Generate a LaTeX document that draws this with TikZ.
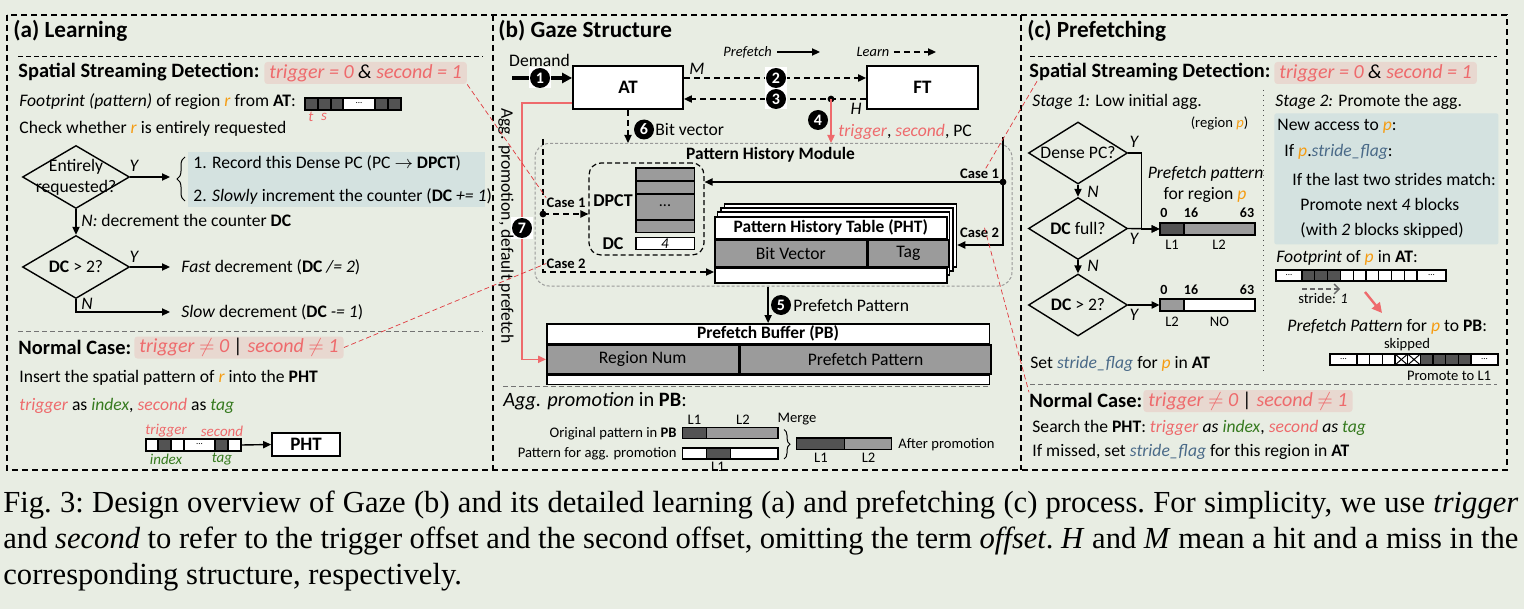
\documentclass[tikz,border=0pt]{standalone}
\usepackage{fontspec}
\setmainfont{Carlito}
\newfontfamily\capfont{Liberation Serif}
\usetikzlibrary{arrows.meta,positioning,shapes.geometric,calc,decorations.pathreplacing}
\definecolor{paper}{HTML}{E8EDE3}
\definecolor{hot}{HTML}{EE6A6C}
\definecolor{hotbg}{HTML}{E8D8D0}
\definecolor{cool}{HTML}{D4E2E0}
\definecolor{orng}{HTML}{F59C12}
\definecolor{grn}{HTML}{367A1F}
\definecolor{flag}{HTML}{4A6A88}
\definecolor{cdark}{HTML}{535353}
\definecolor{cmid}{HTML}{9B9B9B}
\definecolor{linkred}{HTML}{E0393E}
\newcommand{\trig}{\textcolor{hot}{\textit{trigger}}}
\newcommand{\scnd}{\textcolor{hot}{\textit{second}}}
\newcommand{\idx}{\textcolor{grn}{\textit{index}}}
\newcommand{\tagw}{\textcolor{grn}{\textit{tag}}}
\newcommand{\regr}{\textcolor{orng}{\textit{r}}}
\newcommand{\regp}{\textcolor{orng}{\textit{p}}}
\newcommand{\sflag}{\textcolor{flag}{\textit{stride\_flag}}}

\begin{document}
\begin{tikzpicture}[
  x=0.5pt, y=-0.5pt,
  >={Triangle[length=4pt,width=3.6pt]},
  ttl/.style={font=\bfseries\fontsize{11.6}{14}\selectfont, inner sep=0pt, anchor=west},
  head/.style={font=\bfseries\fontsize{10.2}{12}\selectfont, inner sep=0pt, anchor=west},
  body/.style={font=\fontsize{8.8}{10.5}\selectfont, inner sep=0pt, anchor=west},
  bodyl/.style={body, font=\fontsize{10.2}{12}\selectfont},
  lbl/.style={font=\fontsize{7.3}{8}\selectfont, inner sep=0pt},
  lbli/.style={font=\itshape\fontsize{7.5}{8}\selectfont, inner sep=0pt},
  lblb/.style={font=\bfseries\fontsize{7}{8}\selectfont, inner sep=0pt},
  dots/.style={font=\fontsize{4.5}{5}\selectfont, inner sep=0pt},
  cse/.style={font=\bfseries\fontsize{7.3}{8}\selectfont, inner sep=0pt},
  yn/.style={font=\itshape\fontsize{8.8}{10}\selectfont, inner sep=0pt},
  hl/.style={fill=hotbg, rounded corners=1.5pt, inner xsep=2.5pt, inner ysep=0pt, minimum height=11pt, anchor=west, font=\itshape\fontsize{10}{12}\selectfont},
  dia/.style={diamond, draw, line width=0.7pt, inner sep=0pt, minimum width=53.5pt, minimum height=31.5pt},
  diac/.style={dia, minimum width=49.5pt, minimum height=31pt},
  box/.style={draw, fill=white, line width=0.9pt, inner sep=0pt},
  tbl/.style={draw, line width=0.8pt, inner sep=0pt, font=\fontsize{8.8}{10}\selectfont},
  num/.style={circle, fill=black, text=white, inner sep=0pt, minimum size=10pt, font=\bfseries\fontsize{8}{8}\selectfont},
  numbg/.style={fill=white, inner sep=0pt, minimum width=11pt, minimum height=10.5pt},
  arr/.style={->, line width=0.7pt},
  arrd/.style={->, line width=0.7pt, dash pattern=on 3pt off 2pt},
  arrh/.style={->, line width=0.8pt, color=hot},
  panel/.style={line width=0.7pt, dash pattern=on 3pt off 2pt},
  sepk/.style={line width=0.5pt, dash pattern=on 2.5pt off 1.5pt},
  sepg/.style={sepk, color=black!55},
  link/.style={color=linkred, line width=0.35pt, dash pattern=on 2.5pt off 1.5pt},
  cell/.style={draw=black, line width=0.6pt},
]
\fill[paper] (0,0) rectangle (1524,609);
\useasboundingbox (0,0) rectangle (1524,609);

% panels
\draw[panel] (7,15) rectangle (1507,470);
\draw[panel] (493,15) -- (493,470);
\draw[panel] (1021,15) -- (1021,470);

%% (a) Learning
\node[ttl] (ttlA) at (13,31) {(a) Learning};
\draw[sepk] (18,57) -- (483,57);
\node[head] (ssdA) at (18,72) {Spatial Streaming Detection:};
\node[hl] (condA) at (264,73) {\textcolor{hot}{trigger = 0} \& \textcolor{hot}{second = 1}};

\node[body] (fpA) at (19,102) {\textit{Footprint (pattern)} of region \regr{} from \textbf{AT}:};
\foreach \xa/\xb/\cf in {305/318/cdark,318/331/cdark,331/343/cdark,343/375/white,375/388/cdark,388/401/cdark}
  \filldraw[cell, fill=\cf] (\xa,98) rectangle (\xb,110);
\node[dots] (dotsA1) at (359,103) {...};
\node[lbli, text=hot] (tA) at (311,117) {t};
\node[lbli, text=hot] (sA) at (324,117) {s};
\node[body] (chkA) at (19,129) {Check whether \regr{} is entirely requested};

\node[dia] (entA) at (76,177) {};
\node[body, anchor=center, align=center] (entAt) at (76,177) {Entirely\\requested?};
\node[yn] (yA1) at (134,166) {Y};
\coordinate (brcA) at (170,177);
\draw[arr] (entA.east) -- (brcA);
\draw[line width=0.5pt, decorate, decoration={brace, amplitude=4pt}] (185,201) -- (185,157);
\node[fill=cool, anchor=north west, minimum width=148.5pt, minimum height=27.5pt, inner sep=0pt] (recA) at (188,152) {};
\node[body] (rec1) at (193,163) {1. Record this Dense PC (PC $\rightarrow$ \textbf{DPCT})};
\node[body] (rec2) at (193,196) {2. \textit{Slowly} increment the counter (\textbf{DC} \textit{+= 1})};
\node[body] (decA) at (81,220) {\textit{N:} decrement the counter \textbf{DC}};

\node[dia] (gtA) at (76,267) {};
\node[body, anchor=center] (gtAt) at (76,267) {\textbf{DC} > 2?};
\draw[arr] (entA.south) -- (gtA.north);
\node[yn] (yA2) at (134,257) {Y};
\node[body, inner xsep=5.5pt] (fastA) at (170,267) {\textit{Fast} decrement (\textbf{DC} \textit{/= 2})};
\draw[arr] (gtA.east) -- (fastA.west);
\node[yn] (nA2) at (87,304) {N};
\node[body, inner xsep=5.5pt] (slowA) at (170,312) {\textit{Slow} decrement (\textbf{DC} \textit{-= 1})};
\draw[arr] (gtA.south) |- (slowA.west);

\draw[sepg] (18,331) -- (483,331);
\node[head] (ncA) at (18,347) {Normal Case:};
\node[hl] (normA) at (134,347.5) {\textcolor{hot}{trigger $\neq$ 0} | \textcolor{hot}{second $\neq$ 1}};
\node[body] (insA) at (19,378) {Insert the spatial pattern of \regr{} into the \textbf{PHT}};
\node[body] (asA) at (19,406) {\trig{} as \idx, \scnd{} as \tagw};

\foreach \xa/\xb/\cf in {146/158/white,158/171/cdark,171/184/white,184/215/white,215/228/cdark,228/241/white}
  \filldraw[cell, fill=\cf] (\xa,439) rectangle (\xb,451);
\node[dots] (dotsA2) at (199.5,444.5) {...};
\node[inner sep=0pt, minimum width=47.5pt, minimum height=6pt] (patA) at (193.5,445) {};
\node[lbli, text=hot] (trgA) at (166,431) {trigger};
\node[lbli, text=hot] (scdA) at (222,431) {second};
\node[lbli, text=grn] (idxA) at (166,459) {index};
\node[lbli, text=grn] (tagA) at (222,459) {tag};
\node[box, minimum width=34pt, minimum height=11.5pt, font=\bfseries\fontsize{9.5}{10}\selectfont] (phtA) at (306,444.5) {PHT};
\draw[arr] (patA.east) -- (phtA.west);

%% (b) Gaze Structure
\node[ttl] (ttlB) at (498,31) {(b) Gaze Structure};
\node[lbli, font=\itshape\fontsize{7.2}{8}\selectfont, inner xsep=2.5pt] (legP) at (747.5,52) {Prefetch};
\coordinate (legPe) at (820,52);
\draw[arr] (legP) -- (legPe);
\node[lbli, font=\itshape\fontsize{7.2}{8}\selectfont, inner xsep=2pt] (legL) at (873,52) {Learn};
\coordinate (legLe) at (936,52);
\draw[arrd] (legL) -- (legLe);

\node[draw=black!40, dash pattern=on 1.5pt off 1pt, rounded corners=7pt, line width=0.5pt, minimum width=238.5pt, minimum height=71.25pt, inner sep=0pt] (phm) at (773.5,214.75) {};
\node[head, anchor=center, font=\bfseries\fontsize{8.7}{10}\selectfont] (phmT) at (770.5,155) {Pattern History Module};

\node[body, anchor=center] (demB) at (539.5,60) {Demand};
\node[box, minimum width=55pt, minimum height=21.5pt, font=\bfseries\fontsize{9.5}{10}\selectfont] (AT) at (628,87.5) {AT};
\node[box, minimum width=55.5pt, minimum height=21.5pt, font=\bfseries\fontsize{9.5}{10}\selectfont] (FT) at (922.5,87.5) {FT};
\coordinate (demS) at (512,78);
\draw[-{Triangle[length=5pt,width=5pt]}, line width=1.6pt] (demS) -- (demS -| AT.west);
\node[numbg] (w1) at (540,78) {};
\node[num] (s1) at (540,78) {1};

\draw[arrd] ([yshift=4.75pt]AT.east) -- ([yshift=4.75pt]FT.west);
\node[numbg] (w2) at (776,78) {};
\node[num] (s2) at (776,78) {2};
\draw[arrd] ([yshift=-5.75pt]FT.west) -- ([yshift=-5.75pt]AT.east);
\node[numbg] (w3) at (776,99) {};
\node[num] (s3) at (776,99) {3};
\node[yn] (mB) at (697,69) {M};
\node[yn] (hB) at (856,109) {H};
\coordinate (hitB) at (831,99);
\fill (hitB) circle (1.7pt);
\draw[arrh] (hitB) -- (hitB |- phm.north);
\node[num] (s4) at (818,120) {4};
\node[body] (tspB) at (838,132) {\trig, \scnd, PC};
\draw[arrd] (AT.south) -- (AT.south |- phm.north);
\node[num] (s6) at (644,129.5) {6};
\node[body] (bvB) at (655,129.5) {Bit vector};

% DPCT and DC
\node[draw, dash pattern=on 2.5pt off 1.5pt, rounded corners=6pt, line width=0.6pt, minimum width=57.5pt, minimum height=46pt, inner sep=0pt] (dpct) at (646.5,209) {};
\foreach \ya/\yb in {168/181,181/194,194/220,220/232.4}
  \filldraw[cell, fill=cmid] (636,\ya) rectangle (694.5,\yb);
\node[lbl, font=\fontsize{8}{8}\selectfont] (dotsB) at (665,206) {...};
\filldraw[cell, fill=white] (636,237.5) rectangle (694.5,249.7);
\node[lbli] (dc4) at (665,243.6) {4};
\node[head, anchor=center, font=\bfseries\fontsize{9}{10}\selectfont] (dpctT) at (613,201) {DPCT};
\node[head, anchor=center, font=\bfseries\fontsize{9}{10}\selectfont] (dcT) at (613,244) {DC};

% PHT stack
\foreach \k in {3,2,1}
  \node[tbl, fill=white, minimum width=116pt, minimum height=31.5pt] (phtB\k) at (830+3.5*\k,247.5-4*\k) {};
\node[tbl, fill=white, font=\bfseries\fontsize{8.7}{10}\selectfont, minimum width=116pt, minimum height=10.75pt, anchor=north west] (phtT) at (714,216) {Pattern History Table (PHT)};
\node[tbl, fill=cmid, minimum width=76pt, minimum height=13.5pt, anchor=north west] (phtBV) at (phtT.south west) {Bit Vector};
\node[tbl, fill=cmid, minimum width=40pt, minimum height=13.5pt, anchor=north west] (phtTag) at (phtBV.north east) {Tag};
\node[tbl, fill=white, minimum width=116pt, minimum height=7.25pt, anchor=north west] (phtE) at (phtBV.south west) {};

% left cases
\coordinate (lTop) at (543,139);
\coordinate (lDot) at (543,214);
\coordinate (lBot) at (543,272);
\draw[arrd] (lTop) -- (lBot) -- (lBot -| phtE.west);
\draw[arrd] (lDot) -- (lDot -| dpct.west);
\fill (lDot) circle (1.7pt);
\node[cse] (cs1L) at (566,203) {Case 1};
\node[cse] (cs2L) at (566,263.5) {Case 2};

% right cases
\coordinate (rTop) at (1003,137);
\coordinate (rDot) at (1003,182);
\coordinate (rBot) at (1003,245);
\draw[arr] (rTop) -- (rBot) -- (rBot -| phtB3.east);
\draw[arr] (rDot) -- (rDot -| dpct.east);
\fill (rDot) circle (1.7pt);
\node[cse] (cs1R) at (979.5,174) {Case 1};
\node[cse] (cs2R) at (979.5,233) {Case 2};

% prefetch buffer
\node[tbl, fill=white, font=\bfseries\fontsize{8.7}{10}\selectfont, minimum width=221.3pt, minimum height=9.8pt, anchor=north west] (pbT) at (546,323) {Prefetch Buffer (PB)};
\node[tbl, fill=cmid, minimum width=95.9pt, minimum height=14.35pt, anchor=north west] (pbRN) at (pbT.south west) {Region Num};
\node[tbl, fill=cmid, minimum width=125.4pt, minimum height=14.35pt, anchor=north west] (pbPP) at (pbRN.north east) {Prefetch Pattern};
\node[tbl, fill=white, minimum width=221.3pt, minimum height=4.55pt, anchor=north west] (pbE) at (pbRN.south west) {};
\draw[arr] (pbT.north |- phm.south) -- (pbT.north);
\node[num] (s5) at (781,305) {5};
\node[body] (ppB) at (793,305) {Prefetch Pattern};

\draw[arrh] ([yshift=-7.75pt]AT.west) -| ([xshift=-12pt]pbRN.west) -- (pbRN.west);
\node[numbg] (w7) at (522,228) {};
\node[num] (s7) at (522,228) {7};
\node[body, anchor=center, rotate=-90] (aggB) at (506,226) {Agg. promotion, default prefetch};

% aggressive promotion
\draw[sepg] (503,386.5) -- (990,386.5);
\node[bodyl] (aggT) at (503,400.7) {\textit{Agg. promotion} in \textbf{PB}:};
\foreach \xa/\xb/\cf in {682.7/706.4/cdark,706.4/778/cmid}
  \filldraw[cell, fill=\cf] (\xa,427.8) rectangle (\xb,438.6);
\foreach \xa/\xb/\cf in {682.7/706.4/white,706.4/730.7/cdark,730.7/778/white}
  \filldraw[cell, fill=\cf] (\xa,448) rectangle (\xb,458.9);
\foreach \xa/\xb/\cf in {796.6/844.3/cdark,844.3/891.6/cmid}
  \filldraw[cell, fill=\cf] (\xa,438) rectangle (\xb,449.7);
\node[lbl, anchor=east] (orgB) at (677,433.5) {Original pattern in \textbf{PB}};
\node[lbl, anchor=east] (forB) at (677,453.8) {Pattern for agg. promotion};
\node[lbl] (l1a) at (694.5,420) {L1};
\node[lbl] (l2a) at (743,420) {L2};
\node[lbl] (l1b) at (718,467) {L1};
\node[lbl] (mrgB) at (797,419) {Merge};
\draw[line width=0.5pt, decorate, decoration={brace, amplitude=3pt}] (784,429.5) -- (784,459);
\node[lbl] (l1c) at (821,458) {L1};
\node[lbl] (l2c) at (868.6,458) {L2};
\node[lbl, anchor=west] (aftB) at (898,444.7) {After promotion};

%% (c) Prefetching
\node[ttl] (ttlC) at (1027,31) {(c) Prefetching};
\draw[sepk] (1030,57) -- (1497,57);
\node[head] (ssdC) at (1029,72) {Spatial Streaming Detection:};
\node[hl] (condC) at (1274,73) {\textcolor{hot}{trigger = 0} \& \textcolor{hot}{second = 1}};
\draw[black!70, line width=0.5pt, dotted] (1263,90) -- (1263,372);
\node[body] (st1C) at (1032,102) {\textit{Stage 1:} Low initial agg.};
\node[lbl] (rgC) at (1219.5,123) {(region \regp)};

\node[diac] (dpcC) at (1078,153) {};
\node[body, anchor=center] (dpcCt) at (1078,153) {Dense PC?};
\node[diac] (dfC) at (1078,228.5) {};
\node[body, anchor=center] (dfCt) at (1078,228.5) {\textbf{DC} full?};
\node[diac] (dgC) at (1078,305) {};
\node[body, anchor=center] (dgCt) at (1078,305) {\textbf{DC} > 2?};
\draw[arr] (dpcC.south) -- (dfC.north);
\draw[arr] (dfC.south) -- (dgC.north);
\node[yn] (nC1) at (1093,192) {N};
\node[yn] (nC2) at (1093,266) {N};
\node[yn] (yC1) at (1134,142) {Y};
\node[yn] (yC2) at (1134,239) {Y};
\node[yn] (yC3) at (1134,315) {Y};

\node[body, anchor=center] (ppC1) at (1205.5,174) {\textit{Prefetch pattern}};
\node[body, anchor=center] (ppC2) at (1205,195) {for region \regp};
\foreach \xa/\xb/\cf in {1160/1184/cdark,1184/1255/cmid}
  \filldraw[cell, fill=\cf] (\xa,223) rectangle (\xb,235);
\node[inner sep=0pt, minimum width=47.5pt, minimum height=6pt] (barC1) at (1207.5,229) {};
\draw[arr] (dpcC.east) -- ++(13,0) |- (barC1.west);
\draw[arr] (dfC.east) -- (barC1.west);
\node[lblb] (c0a) at (1164,213) {0};
\node[lblb] (c16a) at (1191,213) {16};
\node[lblb] (c63a) at (1247,213) {63};
\node[lbl] (cl1a) at (1172,245) {L1};
\node[lbl] (cl2a) at (1219,245) {L2};

\foreach \xa/\xb/\cf in {1160/1184/cmid,1184/1255/white}
  \filldraw[cell, fill=\cf] (\xa,299) rectangle (\xb,311);
\node[inner sep=0pt, minimum width=47.5pt, minimum height=6pt] (barC2) at (1207.5,305) {};
\draw[arr] (dgC.east) -- (barC2.west);
\node[lblb] (c0b) at (1164,290) {0};
\node[lblb] (c16b) at (1191,290) {16};
\node[lblb] (c63b) at (1247,290) {63};
\node[lbl] (cl2b) at (1172,322) {L2};
\node[lbl] (cnob) at (1219.5,322) {NO};
\node[body] (setC) at (1030,364) {Set \sflag{} for \regp{} in \textbf{AT}};

\node[body] (st2C) at (1275,102) {\textit{Stage 2:} Promote the agg.};
\node[fill=cool, anchor=north west, minimum width=112pt, minimum height=65.5pt, inner sep=0pt, rounded corners=1pt] (stpC) at (1274,113) {};
\node[body] (st2a) at (1277,126) {New access to \regp:};
\node[body] (st2b) at (1284,152) {If \regp.\sflag:};
\node[body] (st2c) at (1292,179) {If the last two strides match:};
\node[body] (st2d) at (1300,204) {Promote next \textit{4} blocks};
\node[body] (st2e) at (1300,230) {(with \textit{2} blocks skipped)};

\node[body] (fpC) at (1276,258) {\textit{Footprint} of \regp{} in \textbf{AT}:};
\filldraw[cell, fill=white] (1276,270) rectangle (1302,281);
\foreach \i/\cf in {0/cdark,1/cdark,2/cdark,3/white,4/white,5/white,6/white,7/white,8/white}
  \filldraw[cell, fill=\cf] (1302+12.78*\i,270) rectangle (1314.78+12.78*\i,281);
\filldraw[cell, fill=white] (1417,270) rectangle (1446,281);
\node[dots] (dotsC1) at (1289,275) {...};
\node[dots] (dotsC2) at (1431.5,275) {...};
\coordinate (strA) at (1302,289);
\coordinate (strB) at (1340,289);
\draw[black!60, line width=0.7pt, dash pattern=on 2.5pt off 1.5pt, -{Straight Barb[length=2.5pt,width=5pt]}] (strA) -- (strB);
\node[lbl] (strC) at (1323,298) {stride: \textit{1}};
\coordinate (prA) at (1365,292);
\coordinate (prB) at (1382,313);
\draw[-{Triangle[length=5pt,width=5pt]}, hot, line width=1.2pt] (prA) -- (prB);

\node[body] (ppC) at (1287,327) {\textit{Prefetch Pattern} for \regp{} to \textbf{PB}:};
\node[lbl] (skC) at (1407,345) {skipped};
\filldraw[cell, fill=white] (1330,354) rectangle (1357,365);
\foreach \i/\cf in {0/white,1/white,2/white,3/white,4/white,5/cdark,6/cdark,7/cdark,8/cdark}
  \filldraw[cell, fill=\cf] (1357+12.67*\i,354) rectangle (1369.67+12.67*\i,365);
\foreach \i in {3,4}
  \draw[line width=0.5pt] (1357+12.67*\i,354) -- (1369.67+12.67*\i,365) (1357+12.67*\i,365) -- (1369.67+12.67*\i,354);
\filldraw[cell, fill=white] (1471,354) rectangle (1498,365);
\node[dots] (dotsC3) at (1343.5,359) {...};
\node[dots] (dotsC4) at (1484.5,359) {...};
\node[lbl] (prL1) at (1449,376) {Promote to L1};

\draw[sepg] (1030,384.5) -- (1497,384.5);
\node[head] (ncC) at (1029,400) {Normal Case:};
\node[hl] (normC) at (1143,401) {\textcolor{hot}{trigger $\neq$ 0} | \textcolor{hot}{second $\neq$ 1}};
\node[body] (srC) at (1032,428) {Search the \textbf{PHT}: \trig{} \textit{as} \idx, \scnd{} \textit{as} \tagw};
\node[body] (msC) at (1032,452) {If missed, set \sflag{} for this region in \textbf{AT}};

% cross-panel links
\draw[link] (condA.south east) -- (cs1L.north west);
\draw[link] (normA.east) -- (cs2L.west);
\draw[link] ([xshift=4pt]ssdC.south west) -- ([xshift=3pt]cs1R.north);
\draw[link] ([xshift=2.5pt]cs2R.north) -- (ncC.north west);

% caption
\node[anchor=north west, inner sep=0pt, text width=757.5pt, align=justify, font=\capfont\fontsize{15.3}{18}\selectfont\frenchspacing] (capt) at (3,491) {Fig.~3: Design overview of Gaze (b) and its detailed learning (a) and prefetching (c) process. For simplicity, we use \textit{trigger}\linebreak and \textit{second} to refer to the trigger offset and the second offset, omitting the term \textit{offset}. \textit{H} and \textit{M} mean a hit and a miss in the\linebreak corresponding structure, respectively.};
\end{tikzpicture}
\end{document}
